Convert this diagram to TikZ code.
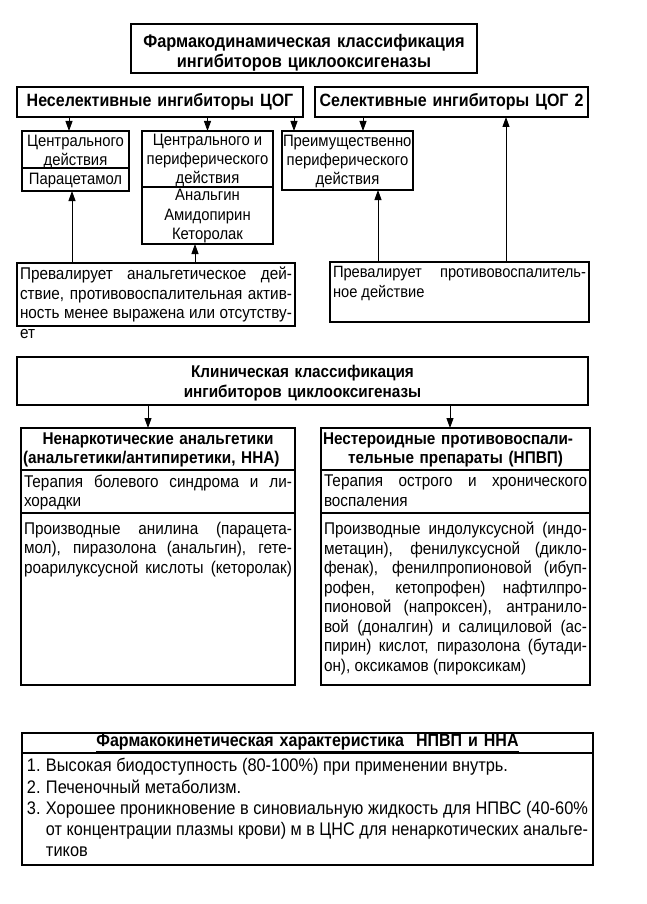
\documentclass[tikz,border=0pt]{standalone}
\usepackage{fontspec}
\usepackage{graphicx}
\setmainfont[FakeStretch=0.9]{Liberation Sans}
\usetikzlibrary{positioning,arrows.meta}

% one justified line of a block (squeezed if too long)
\newsavebox{\jlbox}
\newcommand{\jl}[2][\linewidth]{\sbox{\jlbox}{#2}\ifdim\wd\jlbox>#1\resizebox{#1}{\height}{#2}\else\makebox[#1][s]{#2}\fi}
% text block of fixed size, set from the top
\newcommand{\tblock}[4][4pt]{\parbox[c][#3][t]{#2}{\vspace*{#1}#4}}
% list number
\newcommand{\num}[1]{\makebox[19pt][l]{#1}}
% pushes a centred text down a little
\newcommand{\lift}[1]{\rule{0pt}{#1}}

\tikzset{
  box/.style={draw, line width=1.2pt, outer sep=0pt, inner xsep=3pt, inner ysep=0pt, anchor=north west},
  hdr/.style={box, align=center, font=\fontsize{17.8}{19.5}\selectfont\bfseries},
  cell/.style={box, inner xsep=2pt, font=\fontsize{16.5}{19.3}\selectfont},
  txt/.style={box, font=\fontsize{17}{19.5}\selectfont},
  arr/.style={-{Triangle[length=10pt,width=7pt]}, line width=0.9pt},
}

\begin{document}
\begin{tikzpicture}[x=1pt,y=-1pt]
\useasboundingbox (0,0) rectangle (647,904);

% pharmacodynamic classification
\node[hdr, minimum width=346, minimum height=49, text width=340, font=\fontsize{18.2}{20}\selectfont\bfseries] (fd) at (131,24) {\lift{22pt}Фармакодинамическая классификация\\ингибиторов циклооксигеназы};
\node[hdr, minimum width=286, minimum height=30, text width=282, inner xsep=2pt] (nonsel) at (17,87) {Неселективные ингибиторы ЦОГ};
\node[hdr, minimum width=273, minimum height=30, text width=269, inner xsep=2pt] (sel) at (315,87) {Селективные ингибиторы ЦОГ 2};

\node[cell] (cent) at (22,131) {\tblock[4pt]{103pt}{37pt}{\centering Центрального\\действия}};
\node[cell, below=0pt of cent] (parac) {\tblock[5.5pt]{103pt}{23pt}{\centering Парацетамол}};
\node[cell] (cpe) at (142,131) {\tblock[3pt]{127pt}{56pt}{\centering Центрального и\\периферического\\действия}};
\node[cell, below=0pt of cpe] (drugs) {\tblock[2.5pt]{127pt}{57pt}{\centering Анальгин\\Амидопирин\\Кеторолак}};
\node[cell, inner xsep=1pt] (peri) at (282,131) {\tblock[4pt]{129pt}{59pt}{\centering\jl{Преимущественно}\\периферического\\действия}};

\node[txt] (anal) at (17,263) {\tblock[4pt]{272pt}{63pt}{\jl{Превалирует анальгетическое дей-}\\\jl{ствие, противовоспалительная актив-}\\\jl{ность менее выражена или отсутству-}\\ет}};
\node[txt, font=\fontsize{16.3}{19.5}\selectfont] (antiinf) at (330,262) {\tblock[4.5pt]{253pt}{60pt}{\jl{Превалирует противовоспалитель-}\\ное действие}};

\draw[arr] ([xshift=-6.5pt]cent.north |- nonsel.south) -- ([xshift=-6.5pt]cent.north);
\draw[arr] (cpe.north |- nonsel.south) -- (cpe.north);
\draw[arr] ([xshift=12pt]peri.north west |- nonsel.south) -- ([xshift=12pt]peri.north west);
\draw[arr] ([xshift=15.5pt]peri.north |- sel.south) -- ([xshift=15.5pt]peri.north);
\draw[arr] ([xshift=-3.5pt]parac.south |- anal.north) -- ([xshift=-3.5pt]parac.south);
\draw[arr] ([xshift=-12.5pt]drugs.south |- anal.north) -- ([xshift=-12.5pt]drugs.south);
\draw[arr] ([xshift=30.5pt]peri.south |- antiinf.north) -- ([xshift=30.5pt]peri.south);
\draw[arr] ([xshift=54.5pt]sel.south |- antiinf.north) -- ([xshift=54.5pt]sel.south);

% clinical classification
\node[hdr, minimum width=571, minimum height=48, text width=565, font=\fontsize{17}{20}\selectfont\bfseries] (clin) at (17,357) {\lift{16pt}Клиническая классификация\\ингибиторов циклооксигеназы};

\node[hdr, minimum width=274, minimum height=42, text width=270, inner xsep=2pt, font=\fontsize{17}{19.5}\selectfont\bfseries] (nna) at (21,428) {\lift{14pt}Ненаркотические анальгетики\\\jl{(анальгетики/антипиретики, ННА)}};
\node[txt, below=0pt of nna] (nnause) {\tblock[5pt]{268pt}{43pt}{\jl{Терапия болевого синдрома и ли-}\\хорадки}};
\node[txt, below=0pt of nnause] (nnagr) {\tblock[9pt]{268pt}{172pt}{\jl{Производные анилина (парацета-}\\\jl{мол), пиразолона (анальгин), гете-}\\\jl{роарилуксусной кислоты (кеторолак)}}};

\node[hdr, minimum width=269, minimum height=42, text width=265, inner xsep=2pt, font=\fontsize{17}{19.5}\selectfont\bfseries] (nsaid) at (321,428) {\lift{14pt}\jl{Нестероидные противовоспали-}\\тельные препараты (НПВП)};
\node[txt, below=0pt of nsaid] (nsaiduse) {\tblock[5pt]{263pt}{43pt}{\jl{Терапия острого и хронического}\\воспаления}};
\node[txt, below=0pt of nsaiduse] (nsaidgr) {\tblock[9pt]{263pt}{172pt}{\jl{Производные индолуксусной (индо-}\\\jl{метацин), фенилуксусной (дикло-}\\\jl{фенак), фенилпропионовой (ибуп-}\\\jl{рофен, кетопрофен) нафтилпро-}\\\jl{пионовой (напроксен), антранило-}\\\jl{вой (доналгин) и салициловой (ас-}\\\jl{пирин) кислот, пиразолона (бутади-}\\он), оксикамов (пироксикам)}};

\draw[arr] ([xshift=-10pt]nna.north |- clin.south) -- ([xshift=-10pt]nna.north);
\draw[arr] ([xshift=-5.5pt]nsaid.north |- clin.south) -- ([xshift=-5.5pt]nsaid.north);

% pharmacokinetics
\node[box, minimum width=571, minimum height=20, text width=565, align=center, font=\fontsize{17.8}{19.5}\selectfont\bfseries] (pk) at (22,733) {\underline{Фармакокинетическая характеристика\ \ НПВП и ННА}};
\node[txt, inner xsep=5pt, below=0pt of pk, font=\fontsize{18.2}{21.2}\selectfont] (pklist) {\tblock[5.5pt]{561pt}{112pt}{\num{1.}Высокая биодоступность (80-100\%) при применении внутрь.\\\num{2.}Печеночный метаболизм.\\\jl{\num{3.}Хорошее проникновение в синовиальную жидкость для НПВС (40-60\%}\\\hspace*{19pt}\jl[\dimexpr\linewidth-19pt\relax]{от концентрации плазмы крови) м в ЦНС для ненаркотических анальге-}\\\hspace*{19pt}тиков}};

\end{tikzpicture}
\end{document}
